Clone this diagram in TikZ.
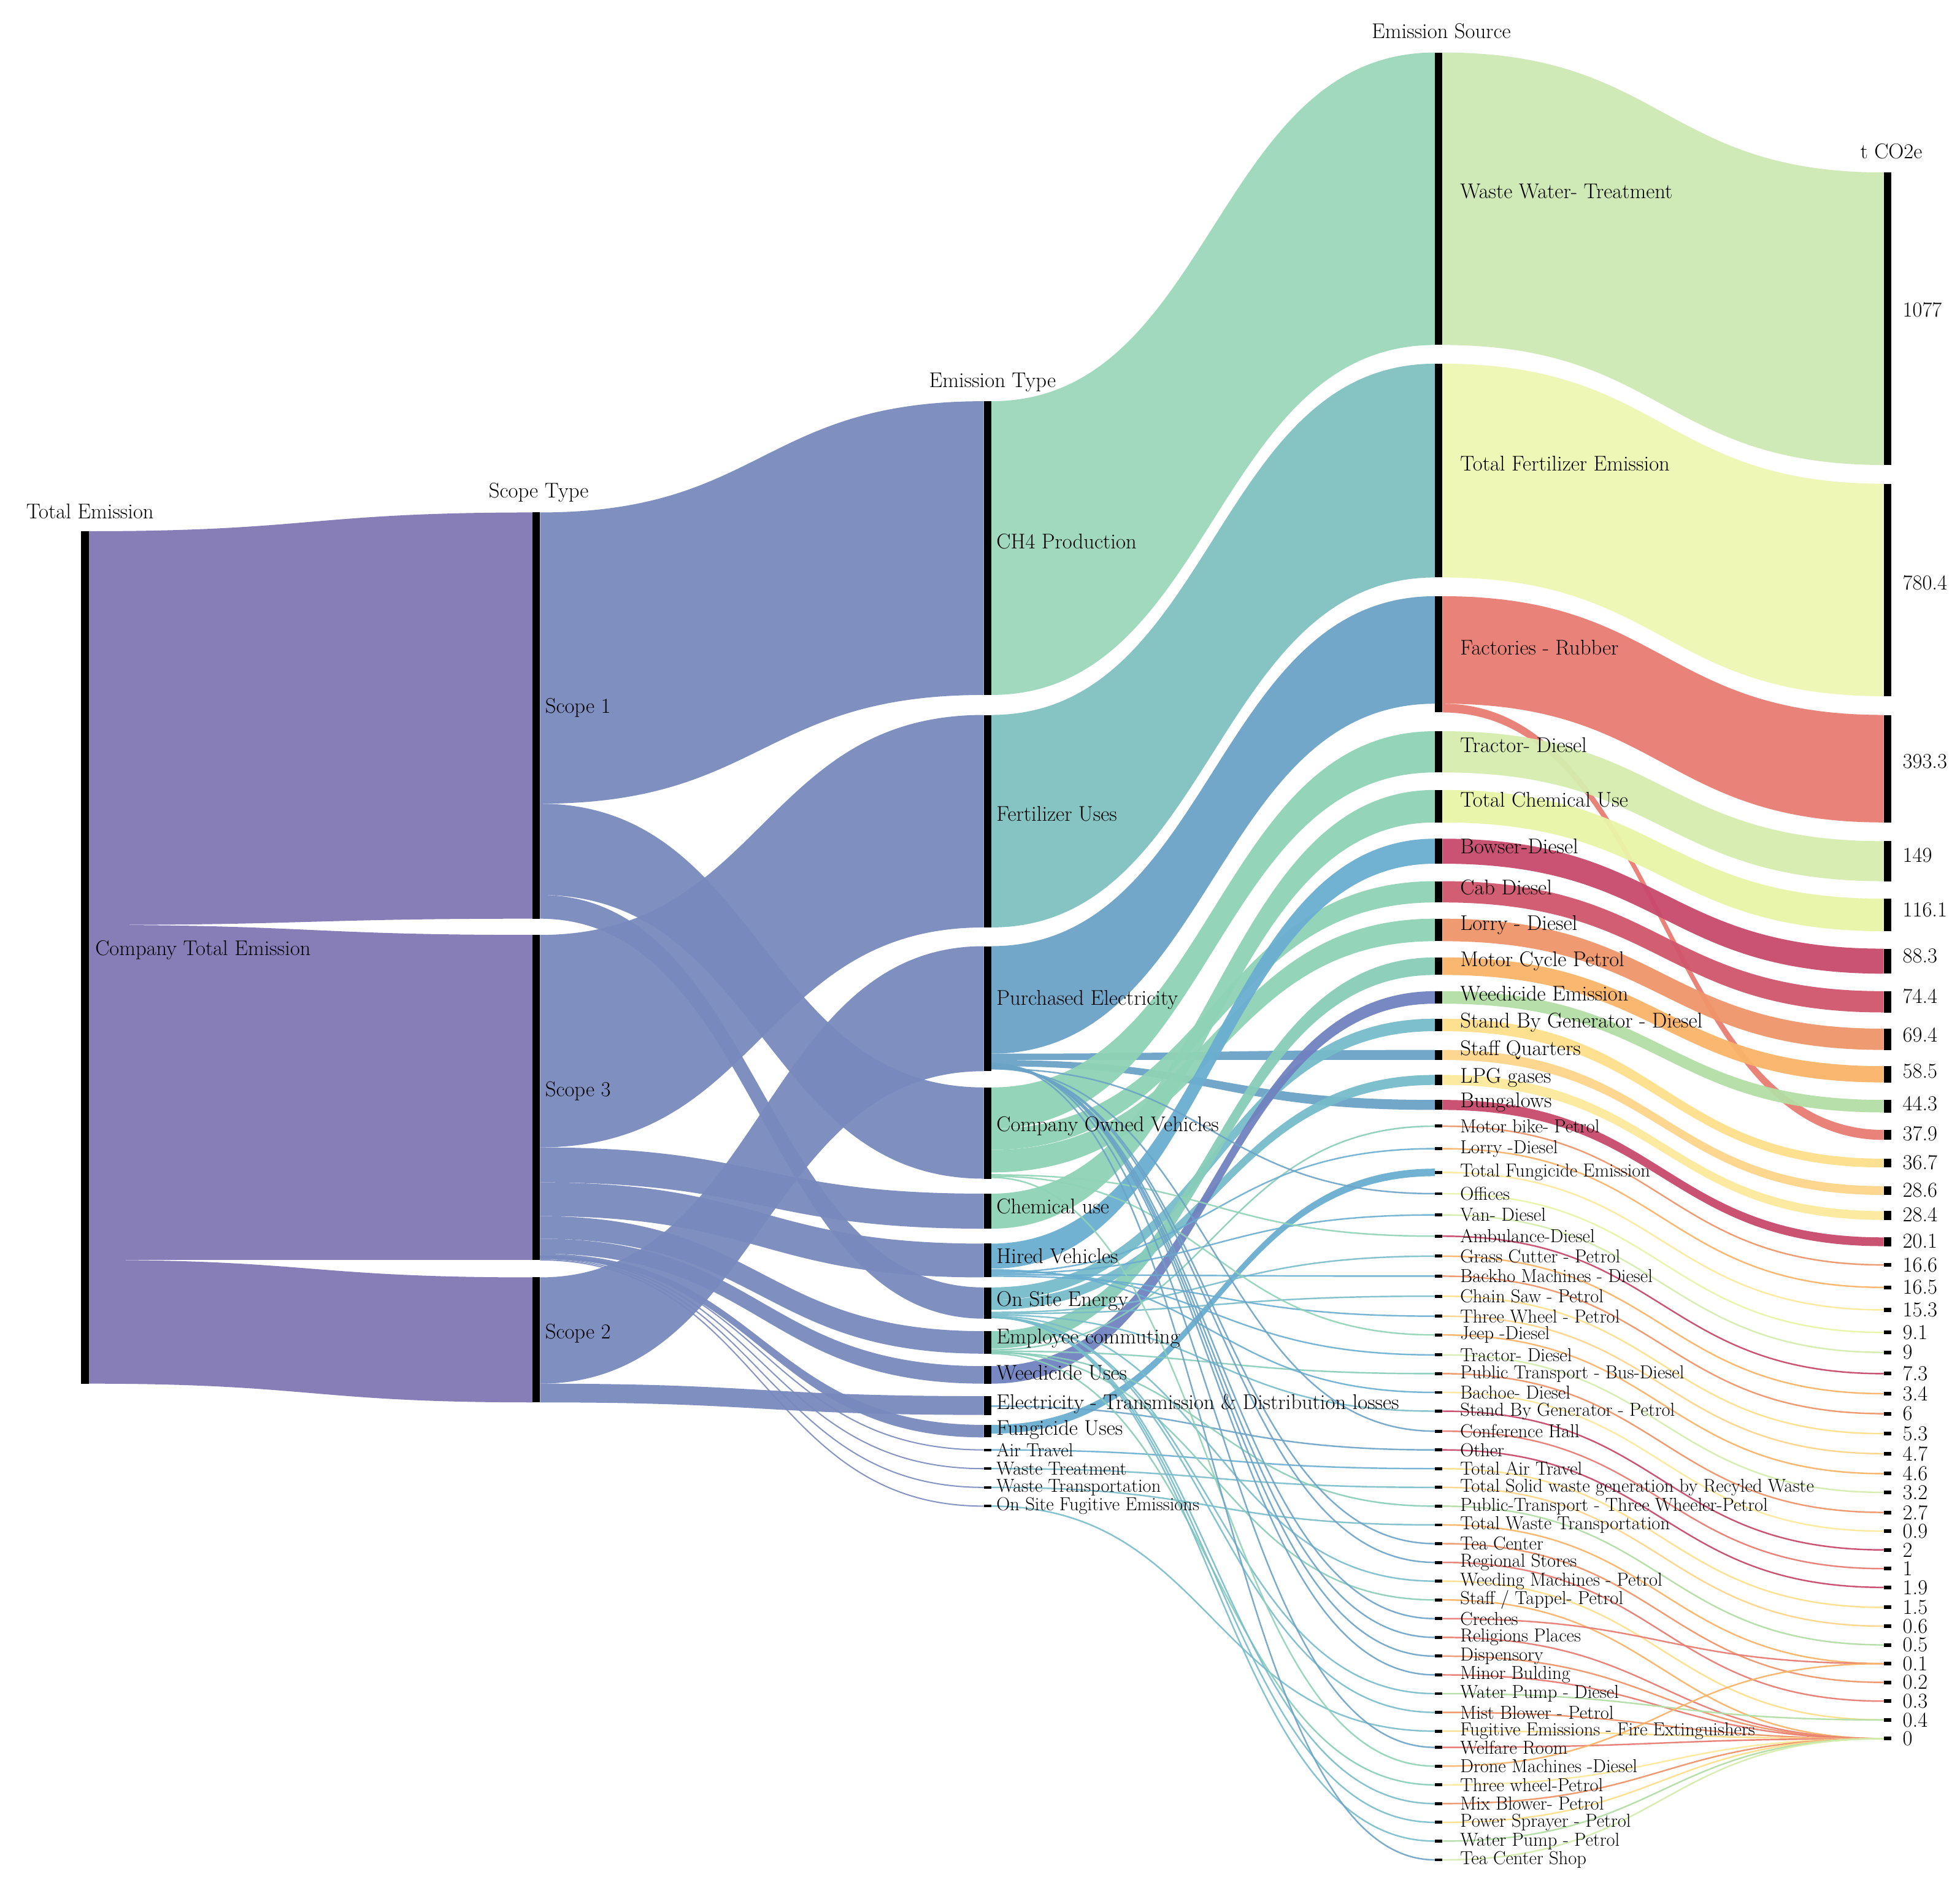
\documentclass[tikz,border=0pt]{standalone}
\begin{document}
\begin{tikzpicture}[x=1pt,y=-1pt,
  lab/.style={font=\fontsize{17}{19}\selectfont,inner sep=0pt},
  slab/.style={font=\fontsize{15}{16}\selectfont,inner sep=0pt},
  bar/.style={fill=black}]
\useasboundingbox[fill=white] (0,0) rectangle (1568,1508);
\newcommand\lnk[7]{\fill[#7,opacity=.95] (#1,#2) .. controls ({(#1+#4)/2},#2) and ({(#1+#4)/2},#5) .. (#4,#5) -- (#4,#6) .. controls ({(#1+#4)/2},#6) and ({(#1+#4)/2},#3) .. (#1,#3) -- cycle;}
\definecolor{cA}{HTML}{8178B5}\definecolor{cB}{HTML}{7889BD}
\definecolor{cCH}{HTML}{9DD8BB}\definecolor{cFe}{HTML}{7FC1C0}
\definecolor{cPE}{HTML}{6BA3C7}\definecolor{cCV}{HTML}{8FD3B6}
\definecolor{cHV}{HTML}{6AAED0}\definecolor{cOS}{HTML}{77BCCB}
\definecolor{cEm}{HTML}{88CDB9}\definecolor{cWe}{HTML}{7082C0}
\definecolor{d1}{HTML}{CDE9B3}\definecolor{d2}{HTML}{EEF7B2}
\definecolor{d3}{HTML}{E87D72}\definecolor{d4}{HTML}{D5EDAE}
\definecolor{d5}{HTML}{E9F5A8}\definecolor{d6}{HTML}{C84A6D}
\definecolor{d7}{HTML}{D0566C}\definecolor{d8}{HTML}{F0956A}
\definecolor{d9}{HTML}{F9B468}\definecolor{d10}{HTML}{B4DEA5}
\definecolor{d11}{HTML}{FDE08C}\definecolor{d12}{HTML}{FDD48A}
\definecolor{d13}{HTML}{FBE99B}
% col0 -> col1
\lnk{71}{425}{740}{426}{410}{735}{cA}
\lnk{71}{740}{1008}{426}{748}{1008}{cA}
\lnk{71}{1008}{1107}{426}{1022}{1122}{cA}
% col1 -> col2
\lnk{432}{410}{643}{787}{321}{556}{cB}
\lnk{432}{643}{716}{787}{870}{943}{cB}
\lnk{432}{716}{735}{787}{1030}{1055}{cB}
\lnk{432}{748}{918}{787}{572}{742}{cB}
\lnk{432}{918}{946}{787}{955}{983}{cB}
\lnk{432}{946}{973}{787}{995}{1022}{cB}
\lnk{432}{973}{991}{787}{1065}{1083}{cB}
\lnk{432}{991}{1003}{787}{1093}{1107}{cB}
\lnk{432}{1003}{1007}{787}{1140}{1150}{cB}
\lnk{432}{1022}{1107}{787}{757}{857}{cB}
\lnk{432}{1107}{1122}{787}{1117}{1132}{cB}
\foreach \s/\t in {1005/1160,1006/1175,1007/1190,1008/1205}
  \draw[cB,line width=1pt,opacity=.9] (432,\s) .. controls (610,\s) and (610,\t) .. (787,\t);
% col2 -> col3
\lnk{793}{321}{556}{1148}{42}{276}{cCH}
\lnk{793}{572}{742}{1148}{291}{462}{cFe}
\lnk{793}{757}{843}{1148}{477}{563}{cPE}
\lnk{793}{843}{848}{1148}{840}{848}{cPE}
\lnk{793}{848}{853}{1148}{880}{888}{cPE}
\lnk{793}{870}{903}{1148}{585}{618}{cCV}
\lnk{793}{903}{920}{1148}{705}{722}{cCV}
\lnk{793}{920}{938}{1148}{735}{753}{cCV}
\lnk{793}{955}{983}{1148}{632}{658}{cCV}
\lnk{793}{995}{1015}{1148}{671}{691}{cHV}
\lnk{793}{1030}{1040}{1148}{815}{825}{cOS}
\lnk{793}{1040}{1048}{1148}{860}{868}{cOS}
\lnk{793}{1065}{1079}{1148}{766}{780}{cEm}
\lnk{793}{1093}{1107}{1148}{793}{803}{cWe}
\lnk{793}{1140}{1147}{1148}{935}{941}{cHV}
\foreach \s/\t/\c in {1080/901/cEm,1018/919/cHV,855/955/cPE,1019/972/cHV,940/989/cCV,1050/1005/cOS,1020/1021/cHV,1051/1037/cOS,1021/1053/cHV,941/1068/cCV,1017/1084/cHV,1081/1099/cEm,1016/1114/cHV,1052/1129/cOS,855/1145/cPE,1125/1160/cPE,1160/1175/cHV,1175/1190/cOS,1082/1205/cEm,1190/1220/cOS,854/1235/cPE,854/1250/cPE,1053/1265/cOS,1082/1280/cEm,853/1295/cPE,853/1310/cPE,852/1325/cPE,852/1340/cPE,1054/1355/cOS,1054/1370/cOS,1205/1385/cOS,851/1398/cPE,942/1413/cCV,1083/1428/cEm,1054/1443/cOS,1054/1458/cOS,1054/1473/cOS,851/1488/cPE}
  \draw[\c,line width=1.2pt,opacity=.9] (793,\s) .. controls (970,\s) and (970,\t) .. (1148,\t);
% col3 -> col4
\lnk{1154}{42}{276}{1507}{138}{372}{d1}
\lnk{1154}{291}{462}{1507}{387}{557}{d2}
\lnk{1154}{477}{563}{1507}{572}{658}{d3}
\lnk{1154}{563}{570}{1507}{904}{912}{d3}
\lnk{1154}{585}{618}{1507}{673}{705}{d4}
\lnk{1154}{632}{658}{1507}{719}{745}{d5}
\lnk{1154}{671}{691}{1507}{759}{779}{d6}
\lnk{1154}{705}{722}{1507}{793}{810}{d7}
\lnk{1154}{735}{753}{1507}{823}{840}{d8}
\lnk{1154}{766}{780}{1507}{853}{866}{d9}
\lnk{1154}{793}{803}{1507}{880}{890}{d10}
\lnk{1154}{815}{825}{1507}{927}{934}{d11}
\lnk{1154}{840}{848}{1507}{949}{956}{d12}
\lnk{1154}{860}{868}{1507}{969}{976}{d13}
\lnk{1154}{880}{888}{1507}{990}{997}{d6}
\foreach \s/\t/\c in {901/1012/d8,919/1030/d9,938/1048/d13,955/1066/d5,972/1082/d4,989/1099/d6,1005/1115/d9,1021/1131/d8,1037/1147/d11,1053/1163/d12,1068/1179/d9,1084/1194/d4,1099/1210/d8,1114/1225/d13,1129/1240/d6,1145/1255/d3,1160/1270/d6,1175/1286/d11,1190/1301/d12,1205/1316/d10,1220/1331/d9,1235/1346/d8,1250/1361/d3,1265/1376/d11,1280/1391/d9,1295/1331/d3,1310/1391/d3,1325/1391/d8,1340/1391/d3,1355/1376/d10,1370/1391/d8,1385/1391/d11,1398/1391/d3,1413/1331/d9,1428/1391/d13,1443/1391/d8,1458/1391/d11,1473/1391/d10,1488/1391/d4}
  \draw[\c,line width=1.2pt,opacity=.95] (1154,\s) .. controls (1330,\s) and (1330,\t) .. (1507,\t);
% bars
\fill[bar] (65,425) rectangle (71,1107);
\foreach \a/\b in {410/735,748/1008,1022/1122} \fill[bar] (426,\a) rectangle (432,\b);
\foreach \a/\b in {321/556,572/742,757/857,870/943,955/983,995/1022,1030/1055,1065/1083,1093/1107,1117/1132,1140/1150,1159/1161,1174/1176,1189/1191,1204/1206} \fill[bar] (787,\a) rectangle (793,\b);
\foreach \a/\b in {42/276,291/462,477/570,585/618,632/658,671/691,705/722,735/753,766/780,793/803,815/825,840/848,860/868,880/888} \fill[bar] (1148,\a) rectangle (1154,\b);
\foreach \y in {901,919,938,955,972,989,1005,1021,1037,1053,1068,1084,1099,1114,1129,1145,1160,1175,1190,1205,1220,1235,1250,1265,1280,1295,1310,1325,1340,1355,1370,1385,1398,1413,1428,1443,1458,1473,1488} \fill[bar] (1148,\y-1.2) rectangle (1154,\y+1.2);
\foreach \a/\b in {138/372,387/557,572/658,673/705,719/745,759/779,793/810,823/840,853/866,880/890,904/912,927/934,949/956,969/976,990/997} \fill[bar] (1507,\a) rectangle (1513,\b);
\foreach \y in {1012,1030,1048,1066,1082,1099,1115,1131,1147,1163,1179,1194,1210,1225,1240,1255,1270,1286,1301,1316,1331,1346,1361,1376,1391} \fill[bar] (1507,\y-1.5) rectangle (1513,\y+1.5);
% headers
\node[lab] (h0) at (72,409) {Total Emission};
\node[lab] (h1) at (431,394) {Scope Type};
\node[lab] (h2) at (794,306) {Emission Type};
\node[lab] (h3) at (1153,25) {Emission Source};
\node[lab] (h4) at (1513,121) {t CO2e};
% labels
\node[lab,anchor=west] (n0) at (76,760) {Company Total Emission};
\foreach \y/\t [count=\i] in {566/Scope 1,873/Scope 3,1067/Scope 2}
  \node[lab,anchor=west] (s\i) at (436,\y) {\t};
\foreach \y/\t [count=\i] in {433/CH4 Production,651/Fertilizer Uses,800/Purchased Electricity,901/Company Owned Vehicles,965/Chemical use,1005/Hired Vehicles,1041/On Site Energy,1071/Employee commuting,1098/Weedicide Uses,1123/Electricity - Transmission \& Distribution losses,1144/Fungicide Uses}
  \node[lab,anchor=west] (t\i) at (797,\y) {\t};
\foreach \y/\t [count=\i] in {1160/Air Travel,1175/Waste Treatment,1190/Waste Transportation,1205/On Site Fugitive Emissions}
  \node[slab,anchor=west] (ts\i) at (797,\y) {\t};
\foreach \y/\t [count=\i] in {153/Waste Water- Treatment,371/Total Fertilizer Emission,518/Factories - Rubber,596/Tractor- Diesel,640/Total Chemical Use,677/Bowser-Diesel,710/Cab Diesel,740/Lorry - Diesel,769/Motor Cycle Petrol,795/Weedicide Emission,818/Stand By Generator - Diesel,840/Staff Quarters,862/LPG gases,882/Bungalows}
  \node[lab,anchor=west] (u\i) at (1168,\y) {\t};
\foreach \y/\t [count=\i] in {901/Motor bike- Petrol,919/Lorry -Diesel,938/Total Fungicide Emission,955/Offices,972/Van- Diesel,989/Ambulance-Diesel,1005/Grass Cutter - Petrol,1021/Backho Machines - Diesel,1037/Chain Saw - Petrol,1053/Three Wheel - Petrol,1068/Jeep -Diesel,1084/Tractor- Diesel,1099/Public Transport - Bus-Diesel,1114/Bachoe- Diesel,1129/Stand By Generator - Petrol,1145/Conference Hall,1160/Other,1175/Total Air Travel,1190/Total Solid waste generation by Recyled Waste,1205/Public-Transport - Three Wheeler-Petrol,1220/Total Waste Transportation,1235/Tea Center,1250/Regional Stores,1265/Weeding Machines - Petrol,1280/{Staff / Tappel- Petrol},1295/Creches,1310/Religions Places,1325/Dispensory,1340/Minor Bulding,1355/Water Pump - Diesel,1370/Mist Blower - Petrol,1385/Fugitive Emissions - Fire Extinguishers,1398/Welfare Room,1413/Drone Machines -Diesel,1428/Three wheel-Petrol,1443/Mix Blower- Petrol,1458/Power Sprayer - Petrol,1473/Water Pump - Petrol,1488/Tea Center Shop}
  \node[slab,anchor=west] (w\i) at (1168,\y) {\t};
\foreach \y/\t [count=\i] in {248/1077,466/780.4,609/393.3,684/149,728/116.1,765/88.3,797/74.4,828/69.4,857/58.5,883/44.3,907/37.9,930/36.7,952/28.6,972/28.4,993/20.1,1012/16.6,1030/16.5,1048/15.3,1066/9.1,1082/9,1099/7.3,1115/3.4,1131/6,1147/5.3,1163/4.7,1179/4.6,1194/3.2,1210/2.7,1225/0.9,1240/2,1255/1,1270/1.9,1286/1.5,1301/0.6,1316/0.5,1331/0.1,1346/0.2,1361/0.3,1376/0.4,1391/0}
  \node[lab,anchor=west] (v\i) at (1522,\y) {\t};
\end{tikzpicture}
\end{document}
